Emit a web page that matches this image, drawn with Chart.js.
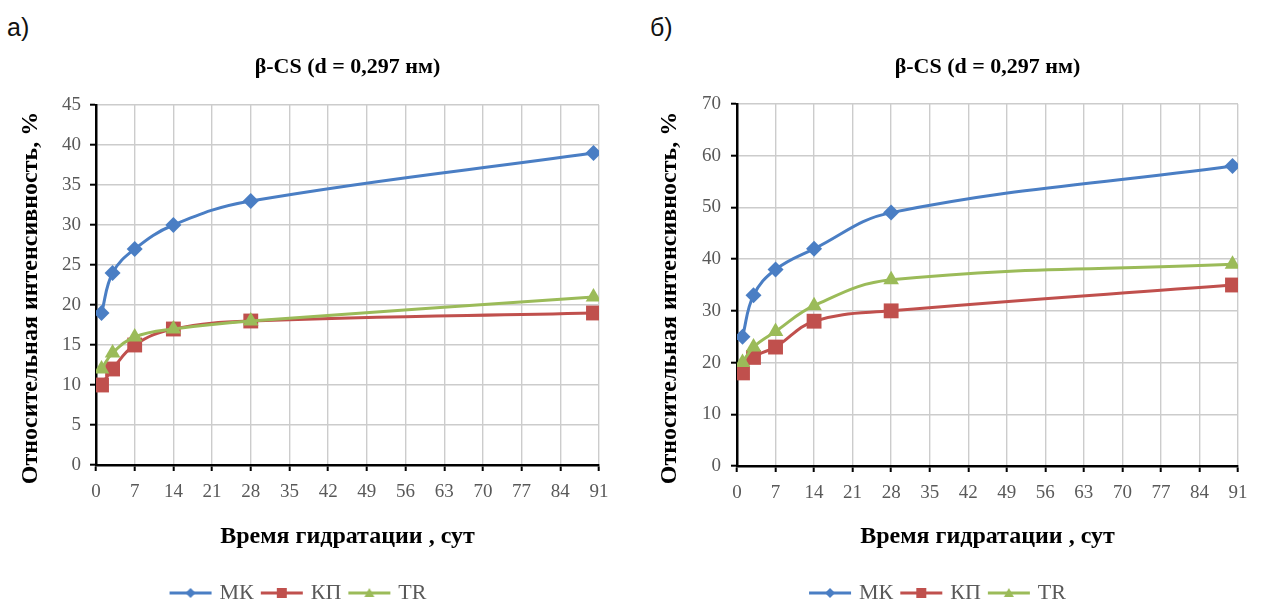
<!DOCTYPE html>
<html><head><meta charset="utf-8">
<script src="https://cdn.jsdelivr.net/npm/chart.js@4/dist/chart.umd.min.js"></script>
<style>
html,body{margin:0;padding:0;background:#fff;overflow:hidden;width:1263px;height:605px;}
.wrap{position:absolute;top:0;}
.lbl{position:absolute;font-family:"Liberation Sans",Arial,sans-serif;font-size:25px;color:#111;line-height:1;}
</style></head><body>
<div class="lbl" style="left:7px;top:15px">а)</div>
<div class="lbl" style="left:650px;top:15px">б)</div>
<div class="wrap" style="left:0px;"><canvas id="cA" width="625" height="614"></canvas></div>
<div class="wrap" style="left:640px;"><canvas id="cB" width="623" height="614"></canvas></div>
<script>
// ---- data ----
const days = [1, 3, 7, 14, 28, 90];
const seriesNames = ['МК', 'КП', 'TR'];
const mkA = [19, 24, 27, 30, 33, 39];
const kpA = [10, 12, 15, 17, 18, 19];
const trA = [12, 14, 16, 17, 18, 21];
const mkB = [25, 33, 38, 42, 49, 58];
const kpB = [18, 21, 23, 28, 30, 35];
const trB = [20, 23, 26, 31, 36, 39];
const xMax = 91, xStep = 7;
const yMaxA = 45, yStepA = 5;
const yMaxB = 70, yStepB = 10;
const chartTitle = 'β-CS (d = 0,297 нм)';
const xTitle = 'Время гидратации , сут';
const yTitle = 'Относительная интенсивность, %';

const COLORS = ['#4a7ec4', '#c0504d', '#9bbb59'];
const STYLES = ['rectRot', 'rect', 'triangle'];
const RADII = [8, 10.5, 9];
const SERIF = '"Liberation Serif", "Times New Roman", serif';

function icon(color, style) {
  const c = document.createElement('canvas');
  c.width = 44; c.height = 16;
  const g = c.getContext('2d');
  g.strokeStyle = color; g.fillStyle = color; g.lineWidth = 3;
  g.beginPath(); g.moveTo(1, 8); g.lineTo(43, 8); g.stroke();
  g.beginPath();
  if (style === 'rectRot') { g.moveTo(22, 3); g.lineTo(27, 8); g.lineTo(22, 13); g.lineTo(17, 8); }
  else if (style === 'rect') { g.rect(17, 3, 10, 10); }
  else { g.moveTo(22, 3); g.lineTo(27, 12); g.lineTo(17, 12); }
  g.closePath(); g.fill();
  return c;
}
const ICONS = COLORS.map((c, i) => icon(c, STYLES[i]));

const titlePlugin = {
  id: 'centerTitle',
  afterDraw(chart, args, opts) {
    const a = chart.chartArea, ctx = chart.ctx;
    ctx.save();
    ctx.font = 'bold 22px ' + SERIF;
    ctx.fillStyle = '#000';
    ctx.textAlign = 'center'; ctx.textBaseline = 'middle';
    ctx.fillText(chartTitle, (a.left + a.right) / 2, 67);
    // y-axis title
    ctx.font = 'bold 24px ' + SERIF;
    ctx.translate(opts.yx, opts.yy);
    ctx.rotate(-Math.PI / 2);
    ctx.fillText(yTitle, 0, 0);
    ctx.restore();
  }
};

function makeChart(id, series, yMax, yStep, geom) {
  const datasets = series.map((vals, i) => ({
    label: seriesNames[i],
    data: days.map((d, k) => ({ x: d, y: vals[k] })),
    borderColor: COLORS[i], backgroundColor: COLORS[i],
    borderWidth: 3, tension: 0.4,
    pointStyle: STYLES[i], pointRadius: RADII[i], pointBorderWidth: 0,
    pointBackgroundColor: COLORS[i],
    order: 2 - i
  }));
  return new Chart(document.getElementById(id), {
    type: 'line',
    data: { datasets },
    plugins: [titlePlugin],
    options: {
      responsive: false, animation: false,
      layout: { padding: { top: geom.top, right: geom.right, left: 0, bottom: 0 } },
      plugins: {
        centerTitle: { yx: geom.yx, yy: 298 },
        title: { display: false },
        tooltip: { enabled: false },
        legend: {
          position: 'bottom',
          labels: {
            usePointStyle: true, pointStyleWidth: 36, padding: 10,
            color: '#595959', font: { family: SERIF, size: 22 },
            generateLabels(chart) {
              return chart.data.datasets.map((ds, i) => ({
                text: ds.label, pointStyle: ICONS[i], datasetIndex: i,
                fontColor: '#595959', hidden: false, lineWidth: 0,
                strokeStyle: 'rgba(0,0,0,0)', fillStyle: 'rgba(0,0,0,0)'
              }));
            }
          }
        }
      },
      scales: {
        x: {
          type: 'linear', min: 0, max: xMax,
          afterFit(s) { s.height = geom.xh; },
          ticks: { stepSize: xStep, color: '#595959', padding: 10, font: { family: SERIF, size: 19 } },
          grid: { color: '#cccccc', lineWidth: 1.4, tickColor: '#000', tickLength: 6, tickWidth: 2 },
          border: { color: '#000', width: 2.5 },
          title: { display: true, text: xTitle, color: '#000', font: { family: SERIF, size: 24, weight: 'bold' }, padding: { top: 0, bottom: 20.6 } }
        },
        y: {
          min: 0, max: yMax,
          afterFit(s) { s.width = geom.yw; },
          ticks: { stepSize: yStep, color: '#595959', padding: geom.ypad, font: { family: SERIF, size: 19 } },
          grid: { color: '#cccccc', lineWidth: 1.4, tickColor: '#000', tickLength: 6, tickWidth: 2 },
          border: { color: '#000', width: 2.5 },
          title: { display: false }
        }
      }
    }
  });
}

makeChart('cA', [mkA, kpA, trA], yMaxA, yStepA, { top: 105, right: 26, xh: 107, yw: 96, ypad: 9, yx: 31 });
makeChart('cB', [mkB, kpB, trB], yMaxB, yStepB, { top: 104, right: 25, xh: 106, yw: 97, ypad: 10, yx: 30 });
</script>
</body></html>
